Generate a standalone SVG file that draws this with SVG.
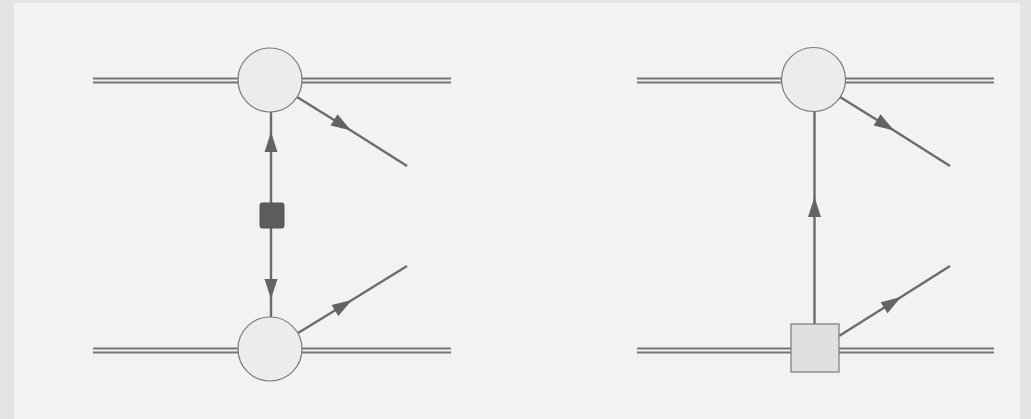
<svg xmlns="http://www.w3.org/2000/svg" width="1031" height="419" viewBox="0 0 1031 419">
<style>
.bg{fill:#e4e4e2}
.panel{fill:#f2f2f0}
.rail{stroke:#767676;stroke-width:2;fill:none}
.wire{stroke:#6b6b6b;stroke-width:2.4;fill:none}
.arr{marker-mid:url(#ah)}
.vtx{fill:#ececea;stroke:#7a7a7a;stroke-width:1.2}
.box{fill:#e0e0de;stroke:#7a7a7a;stroke-width:1.2}
.blob{fill:#5c5c5c;stroke:#555;stroke-width:1}
</style>
<defs>
<marker id="ah" markerUnits="userSpaceOnUse" markerWidth="26" markerHeight="18" viewBox="-22 -9 26 18" refX="0" refY="0" orient="auto">
<path d="M0,0 L-20,-6.5 L-20,6.5 Z" fill="#636363"/>
</marker>
</defs>
<rect class="bg" x="0" y="0" width="1031" height="419"/>
<rect class="panel" x="14" y="3" width="1006" height="420"/>
<g id="rails">
<line class="rail" x1="93" y1="78.5" x2="451" y2="78.5"/>
<line class="rail" x1="93" y1="82.5" x2="451" y2="82.5"/>
<line class="rail" x1="93" y1="348.5" x2="451" y2="348.5"/>
<line class="rail" x1="93" y1="352.5" x2="451" y2="352.5"/>
<line class="rail" x1="637" y1="78.5" x2="994" y2="78.5"/>
<line class="rail" x1="637" y1="82.5" x2="994" y2="82.5"/>
<line class="rail" x1="637" y1="348.5" x2="994" y2="348.5"/>
<line class="rail" x1="637" y1="352.5" x2="994" y2="352.5"/>
</g>
<g id="connectors">
<path class="wire arr" d="M297,97 L351,130.5 L407,166"/>
<path class="wire arr" d="M271,203 L271,132 L271,112"/>
<path class="wire arr" d="M271,228 L271,299 L271,317"/>
<path class="wire arr" d="M298,333 L352,300 L407,266"/>
<path class="wire arr" d="M840,97 L894,130.5 L950,166"/>
<path class="wire arr" d="M814.5,324 L814.5,197 L814.5,111"/>
<path class="wire arr" d="M839,336 L901,297 L950,266"/>
</g>
<g id="vertex-top-left"><circle class="vtx" cx="270" cy="80" r="32"/></g>
<g id="vertex-bottom-left"><circle class="vtx" cx="270" cy="349" r="32"/></g>
<g id="propagator-blob"><rect class="blob" x="260" y="203" width="24" height="25" rx="2"/></g>
<g id="vertex-top-right"><circle class="vtx" cx="813.5" cy="79.5" r="32"/></g>
<g id="vertex-bottom-right"><rect class="box" x="791" y="324" width="48" height="48"/></g>
</svg>
